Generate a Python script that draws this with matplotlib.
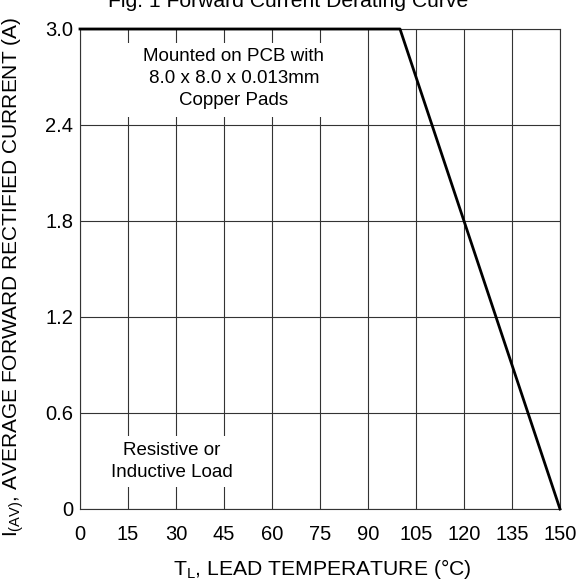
import matplotlib.pyplot as plt
from matplotlib.patches import Rectangle

plt.rcParams['font.family'] = ['Liberation Sans', 'DejaVu Sans']
plt.rcParams['mathtext.fontset'] = 'custom'
plt.rcParams['mathtext.rm'] = 'Liberation Sans'
plt.rcParams['mathtext.it'] = 'Liberation Sans'

# derating curve
lead_temp = [0, 100, 150]
avg_current = [3.0, 3.0, 0.0]

x_ticks = [0, 15, 30, 45, 60, 75, 90, 105, 120, 135, 150]
y_ticks = [0, 0.6, 1.2, 1.8, 2.4, 3.0]
y_tick_labels = ['0', '0.6', '1.2', '1.8', '2.4', '3.0']

fig = plt.figure(figsize=(5.81, 5.83), dpi=100)
ax = fig.add_axes([80 / 581, 74 / 583, 480 / 581, 480 / 583])

ax.plot(lead_temp, avg_current, color='black', lw=2.0, clip_on=False, zorder=5)

ax.set_xlim(0, 150)
ax.set_ylim(0, 3.0)
ax.set_xticks(x_ticks)
ax.set_yticks(y_ticks)
ax.set_yticklabels(y_tick_labels)
ax.tick_params(length=0, labelsize=14.5)
ax.tick_params(axis='y', pad=5)
ax.tick_params(axis='x', pad=11.5)
ax.grid(True, color='#333333', lw=0.8)
for s in ax.spines.values():
    s.set_color('#333333')
    s.set_linewidth(0.8)

# white panels behind the notes
ax.add_patch(Rectangle((14.5, 2.45), 67, 0.46, facecolor='white',
                       edgecolor='none', zorder=3))
ax.text(48.1, 2.69, 'Mounted on PCB with\n8.0 x 8.0 x 0.013mm\nCopper Pads',
        ha='center', va='center', fontsize=13.5, linespacing=1.4, zorder=4)
ax.text(28.8, 0.297, 'Resistive or\nInductive Load',
        ha='center', va='center', fontsize=13.5, linespacing=1.35, zorder=4,
        bbox=dict(boxstyle='square,pad=0.35', facecolor='white', edgecolor='none'))

fig.text(0.496, 1 - 7 / 583, 'Fig. 1 Forward Current Derating Curve',
         ha='center', va='baseline', fontsize=15.2)
fig.text(322 / 581, 1 - 569 / 583, r'T$_{\mathrm{L}}$, LEAD TEMPERATURE (°C)',
         ha='center', va='center', fontsize=15.2)
fig.text(13 / 581, 1 - 277 / 583,
         r'I$_{\mathrm{(AV)}}$, AVERAGE FORWARD RECTIFIED CURRENT (A)',
         ha='center', va='center', rotation=90, fontsize=15)

fig.savefig('out.png', dpi=100)
